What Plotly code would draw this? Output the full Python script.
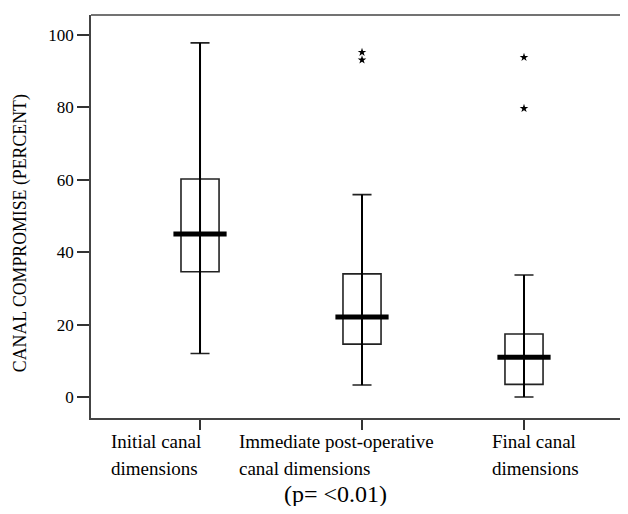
import plotly.graph_objects as go

categories = ["Initial", "Immediate", "Final"]
cat_line1 = ["Initial canal", "Immediate post-operative", "Final canal"]
cat_line2 = ["dimensions", "canal dimensions", "dimensions"]
lower_whisker = [12, 3.3, 0]
q1 = [34.6, 14.6, 3.5]
median = [45, 22.1, 11.0]
q3 = [60.2, 34.0, 17.4]
upper_whisker = [97.8, 55.9, 33.7]
outlier_cat = ["Immediate", "Immediate", "Final", "Final"]
outlier_val = [95.2, 93.1, 93.8, 79.7]
y_ticks = [0, 20, 40, 60, 80, 100]

FONT = "Liberation Serif, Times New Roman, serif"
fig = go.Figure()

# whisker lines through boxes
wx, wy = [], []
for c, lo, hi in zip(categories, lower_whisker, upper_whisker):
    wx += [c, c, None]
    wy += [lo, hi, None]
fig.add_trace(go.Scatter(x=wx, y=wy, mode="lines",
                         line=dict(color="black", width=2), hoverinfo="skip",
                         showlegend=False))

fig.add_trace(go.Box(
    x=categories, q1=q1, median=median, q3=q3,
    lowerfence=lower_whisker, upperfence=upper_whisker,
    width=0.235, whiskerwidth=0.5,
    fillcolor="rgba(0,0,0,0)", line=dict(color="#222", width=1.6),
    boxpoints=False, showlegend=False))

fig.add_trace(go.Scatter(x=categories, y=median, mode="markers",
                         marker=dict(symbol="line-ew", size=38,
                                     line=dict(color="black", width=5)),
                         showlegend=False, hoverinfo="skip"))

fig.add_trace(go.Scatter(x=outlier_cat, y=outlier_val, mode="markers",
                         marker=dict(symbol="star", size=6.5, color="black"),
                         showlegend=False))

fig.update_layout(
    width=620, height=498,
    margin=dict(l=83, r=0, t=7, b=88),
    paper_bgcolor="white", plot_bgcolor="white",
    font=dict(family=FONT, color="black"),
    xaxis=dict(type="category", categoryarray=categories,
               range=[-0.673, 2.642], showline=True, mirror=False,
               linecolor="#444", linewidth=1.5, ticks="outside",
               ticklen=10, tickcolor="#333", tickwidth=1.5,
               showticklabels=False, showgrid=False, zeroline=False),
    yaxis=dict(range=[-5.8, 105.5], tickvals=y_ticks, showline=True,
               linecolor="#444", linewidth=1.5, ticks="outside",
               ticklen=12, tickcolor="#333", tickwidth=1.5,
               tickfont=dict(size=17), showgrid=False, zeroline=False),
)

# top frame line
fig.add_shape(type="line", xref="paper", yref="paper", x0=0, x1=1.02,
              y0=1, y1=1, line=dict(color="#444", width=1.5))

fig.add_annotation(text="CANAL COMPROMISE (PERCENT)", textangle=-90,
                   x=-0.132, y=0.459, xref="paper", yref="paper",
                   xanchor="center", yanchor="middle", showarrow=False,
                   font=dict(size=17.8, family=FONT))

label_x = [0.0335, 0.272, 0.743]
for l1, l2, lx in zip(cat_line1, cat_line2, label_x):
    fig.add_annotation(text=l1, x=lx, y=-0.0273, xref="paper", yref="paper",
                       xanchor="left", yanchor="top", align="left",
                       showarrow=False, font=dict(size=19, family=FONT))
    fig.add_annotation(text=l2, x=lx, y=-0.0943, xref="paper", yref="paper",
                       xanchor="left", yanchor="top", align="left",
                       showarrow=False, font=dict(size=19, family=FONT))
fig.add_annotation(text="(p= <0.01)", x=0.4544, y=-0.1526, xref="paper",
                   yref="paper", xanchor="center", yanchor="top",
                   showarrow=False, font=dict(size=24, family=FONT))

fig.write_html("out.html")
